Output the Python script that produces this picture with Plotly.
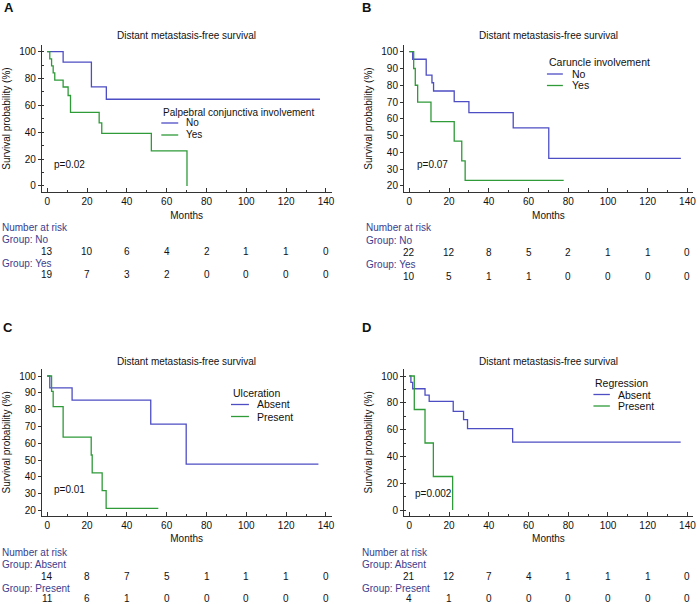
import plotly.graph_objects as go

W, H = 698, 604
FONT = "Liberation Sans"
BLUE = "#4d4dc4"
GREEN = "#2e9a38"
NAVY = "#3c3c8c"

# ---------------- data ----------------
titles = ["Distant metastasis-free survival"] * 4
panel_letters = ["A", "B", "C", "D"]
legend_titles = ["Palpebral conjunctiva involvement", "Caruncle involvement", "Ulceration", "Regression"]
group_names = [["No", "Yes"], ["No", "Yes"], ["Absent", "Present"], ["Absent", "Present"]]
p_values = ["p=0.02", "p=0.07", "p=0.01", "p=0.002"]

# Panel A
A_g1_t = [0, 8.0, 22.2, 29.7, 137]
A_g1_s = [100, 92.3, 73.8, 64.6, 64.6]
A_g2_t = [0, 1.3, 2.2, 3.0, 3.8, 8.0, 10.5, 11.7, 26.1, 27.4, 52.3, 70.2]
A_g2_s = [100, 94.7, 89.5, 84.2, 78.9, 73.7, 67.4, 54.8, 47.0, 39.2, 26.1, 0]
# Panel B
B_g1_t = [0, 1.7, 8.5, 11.4, 12.2, 22.6, 30.0, 52.3, 70.2, 136.7]
B_g1_s = [100, 95.5, 86.1, 81.5, 76.6, 70.2, 63.7, 54.6, 36.4, 36.4]
B_g2_t = [0, 2.2, 3.0, 4.2, 10.9, 22.6, 26.4, 28.1, 77.7]
B_g2_s = [100, 90.0, 80.0, 70.0, 58.3, 46.7, 35.0, 23.3, 23.3]
# Panel C
C_g1_t = [0, 1.3, 12.5, 52.0, 69.8, 136.2]
C_g1_s = [100, 92.9, 85.7, 71.4, 47.6, 47.6]
C_g2_t = [0, 2.2, 3.0, 8.0, 22.1, 22.6, 27.6, 29.6, 55.8]
C_g2_s = [100, 90.9, 81.8, 63.6, 53.0, 42.4, 31.8, 21.2, 21.2]
# Panel D
D_g1_t = [0, 0.8, 1.7, 7.9, 10.0, 22.1, 27.3, 29.3, 52.0, 136.6]
D_g1_s = [100, 95.2, 90.5, 85.7, 81.0, 73.6, 67.5, 60.7, 50.6, 50.6]
D_g2_t = [0, 2.5, 7.9, 12.1, 21.8]
D_g2_s = [100, 75, 50, 25, 0]

risk_times = [0, 20, 40, 60, 80, 100, 120, 140]
A_risk1 = [13, 10, 6, 4, 2, 1, 1, 0]
A_risk2 = [19, 7, 3, 2, 0, 0, 0, 0]
B_risk1 = [22, 12, 8, 5, 2, 1, 1, 0]
B_risk2 = [10, 5, 1, 1, 0, 0, 0, 0]
C_risk1 = [14, 8, 7, 5, 1, 1, 1, 0]
C_risk2 = [11, 6, 1, 0, 0, 0, 0, 0]
D_risk1 = [21, 12, 7, 4, 1, 1, 1, 0]
D_risk2 = [4, 1, 0, 0, 0, 0, 0, 0]

x_ticks = [0, 20, 40, 60, 80, 100, 120, 140]
y_ticks_A = [0, 20, 40, 60, 80, 100]
y_ticks_B = [20, 30, 40, 50, 60, 70, 80, 90, 100]
y_ticks_C = [20, 30, 40, 50, 60, 70, 80, 90, 100]
y_ticks_D = [0, 20, 40, 60, 80, 100]

curves = [
    (A_g1_t, A_g1_s, A_g2_t, A_g2_s),
    (B_g1_t, B_g1_s, B_g2_t, B_g2_s),
    (C_g1_t, C_g1_s, C_g2_t, C_g2_s),
    (D_g1_t, D_g1_s, D_g2_t, D_g2_s),
]
risks = [(A_risk1, A_risk2), (B_risk1, B_risk2), (C_risk1, C_risk2), (D_risk1, D_risk2)]
yticks = [y_ticks_A, y_ticks_B, y_ticks_C, y_ticks_D]

# ---------------- layout geometry (pixels) ----------------
def px(x):
    return x / W

def py(y):
    return 1 - y / H

x_dom_px = [(42, 333), (405.7, 696), (42, 333), (405.7, 696)]
y_dom_px = [(45, 192), (45, 192), (369.3, 515.5), (369.3, 515.5)]
y_ranges = [[-4.5, 105], [16.4, 104], [17, 104], [-4.1, 105]]
y_minor = [10, None, None, 10]
x_range = [-2.7, 142.8]

# legend: (left x, title y, item1 y, item2 y, line length, text x, font size)
legend_geo = [(162, 112, 123, 135, 17, 185, 10), (549.3, 61.7, 74, 85.5, 16, 572, 10.5),
              (232, 393, 404.5, 416.5, 18, 256, 10.5), (596, 383, 394.5, 406, 16.5, 619, 10.5)]
pval_pos = [(52, 164), (417, 164), (52, 489), (415, 493)]
letter_pos = [(2, 8), (362, 8), (1, 327), (362, 327)]
title_y = [36, 36, 362, 362]
# at-risk rows: header, group1 label, group1 numbers, group2 label, group2 numbers
risk_rows = [(227, 239, 251.7, 263, 275), (228, 240, 252, 264, 276),
             (552, 564, 576, 588, 598.5), (552.7, 564, 576, 588, 598.5)]
risk_label_x = [0, 366, 0, 362]

fig = go.Figure()
annotations = []
shapes = []

for i in range(4):
    n = i + 1
    xa = "x" if n == 1 else f"x{n}"
    ya = "y" if n == 1 else f"y{n}"
    t1, s1, t2, s2 = curves[i]
    g1, g2 = group_names[i]
    fig.add_trace(go.Scatter(x=t1, y=s1, mode="lines", line=dict(color=BLUE, width=1.3, shape="hv"),
                             name=g1, xaxis=xa, yaxis=ya, showlegend=False, hoverinfo="skip"))
    fig.add_trace(go.Scatter(x=t2, y=s2, mode="lines", line=dict(color=GREEN, width=1.3, shape="hv"),
                             name=g2, xaxis=xa, yaxis=ya, showlegend=False, hoverinfo="skip"))

    xkey = "xaxis" if n == 1 else f"xaxis{n}"
    ykey = "yaxis" if n == 1 else f"yaxis{n}"
    x0, x1 = x_dom_px[i]
    y0, y1 = y_dom_px[i]
    fig.layout[xkey] = dict(
        domain=[px(x0), px(x1)], range=x_range, anchor=ya,
        tickvals=x_ticks, ticks="inside", ticklen=4, tickwidth=1, tickcolor="#333",
        minor=dict(dtick=10, tick0=0, ticks="inside", ticklen=2, tickcolor="#333"),
        showline=True, linecolor="#333", linewidth=1, showgrid=False, zeroline=False,
        tickfont=dict(family=FONT, size=10, color="#111"),
        title=dict(text="Months", font=dict(family=FONT, size=10, color="#111"), standoff=5),
        fixedrange=True,
    )
    ydict = dict(
        domain=[py(y1), py(y0)], range=y_ranges[i], anchor=xa,
        tickvals=yticks[i], ticks="outside", ticklen=3, tickwidth=1, tickcolor="#333",
        showline=True, linecolor="#333", linewidth=1, showgrid=False, zeroline=False,
        tickfont=dict(family=FONT, size=10, color="#111"),
        title=dict(text="Survival probability (%)", font=dict(family=FONT, size=10, color="#111"), standoff=6),
        fixedrange=True,
    )
    if y_minor[i]:
        ydict["minor"] = dict(dtick=y_minor[i], tick0=0, ticks="inside", ticklen=2, tickcolor="#333")
    fig.layout[ykey] = ydict

    # legend (drawn as key lines + text)
    lx, ty, iy1, iy2, ll, tx, fs = legend_geo[i]
    annotations.append(dict(text=legend_titles[i], x=px(lx), y=py(ty), xref="paper", yref="paper",
                            showarrow=False, font=dict(family=FONT, size=fs, color="#111"),
                            xanchor="left", yanchor="middle"))
    for name, col, yy in [(g1, BLUE, iy1), (g2, GREEN, iy2)]:
        shapes.append(dict(type="line", xref="paper", yref="paper", x0=px(lx), x1=px(lx + ll),
                           y0=py(yy), y1=py(yy), line=dict(color=col, width=1.3)))
        annotations.append(dict(text=name, x=px(tx), y=py(yy), xref="paper", yref="paper",
                                showarrow=False, font=dict(family=FONT, size=fs, color="#111"),
                                xanchor="left", yanchor="middle"))

    # panel title
    annotations.append(dict(text=titles[i], x=px((x0 + x1) / 2), y=py(title_y[i]), xref="paper", yref="paper",
                            showarrow=False, font=dict(family=FONT, size=10, color="#111"),
                            xanchor="center", yanchor="middle"))
    # panel letter
    lx2, ly2 = letter_pos[i]
    annotations.append(dict(text=f"<b>{panel_letters[i]}</b>", x=px(lx2), y=py(ly2), xref="paper", yref="paper",
                            showarrow=False, font=dict(family=FONT, size=13, color="#111"),
                            xanchor="left", yanchor="middle"))
    # p value
    pxp, pyp = pval_pos[i]
    annotations.append(dict(text=p_values[i], x=px(pxp), y=py(pyp), xref="paper", yref="paper",
                            showarrow=False, font=dict(family=FONT, size=10, color="#111"),
                            xanchor="left", yanchor="middle"))
    # number at risk table
    hdr, gl1, gn1, gl2, gn2 = risk_rows[i]
    rx = risk_label_x[i]
    for txt, yy in [("Number at risk", hdr), (f"Group: {g1}", gl1), (f"Group: {g2}", gl2)]:
        annotations.append(dict(text=txt, x=px(rx), y=py(yy), xref="paper", yref="paper",
                                showarrow=False, font=dict(family=FONT, size=10, color=NAVY),
                                xanchor="left", yanchor="middle"))
    r1, r2 = risks[i]
    for vals, yy in [(r1, gn1), (r2, gn2)]:
        for tt, v in zip(risk_times, vals):
            annotations.append(dict(text=str(v), x=tt, y=py(yy), xref=xa, yref="paper",
                                    showarrow=False, font=dict(family=FONT, size=10, color="#111"),
                                    xanchor="center", yanchor="middle"))

fig.update_layout(
    width=W, height=H, margin=dict(l=0, r=0, t=0, b=0),
    paper_bgcolor="white", plot_bgcolor="white",
    showlegend=False, annotations=annotations, shapes=shapes,
    font=dict(family=FONT, size=10, color="#111"),
)

fig.write_html("out.html", config={"displayModeBar": False},
               post_script="document.body.style.margin='0';document.body.style.padding='0';")
